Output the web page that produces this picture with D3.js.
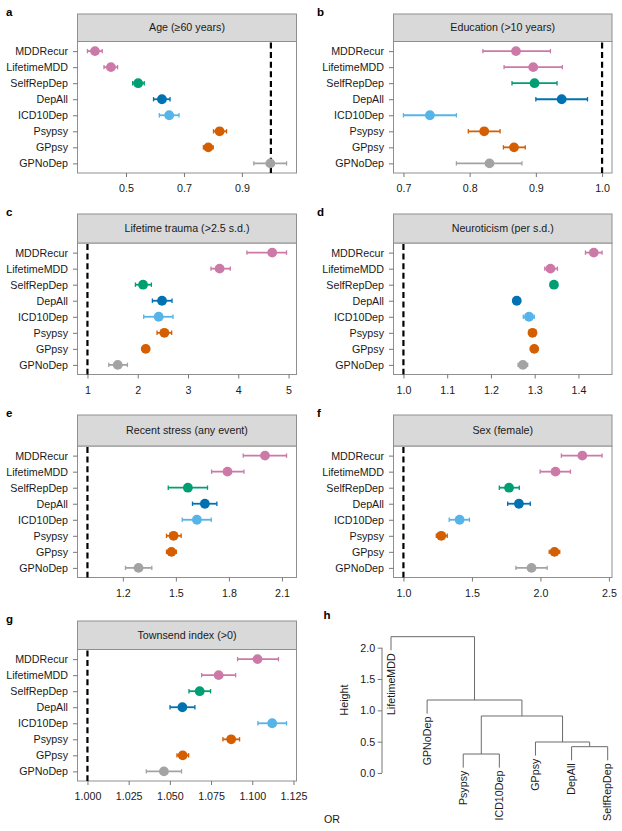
<!DOCTYPE html>
<html>
<head>
<meta charset="utf-8">
<script src="https://cdn.jsdelivr.net/npm/d3@7/dist/d3.min.js"></script>
<style>
  html, body { margin: 0; padding: 0; background: #fff; }
  svg { display: block; font-family: "Liberation Sans", Arial, Helvetica, sans-serif; }
</style>
</head>
<body>
<svg id="chart" width="622" height="831"></svg>
<script>
// ---------------- DATA ----------------
const categories = ["MDDRecur", "LifetimeMDD", "SelfRepDep", "DepAll", "ICD10Dep", "Psypsy", "GPpsy", "GPNoDep"];
const catColors = ["#CC79A7", "#CC79A7", "#009E73", "#0072B2", "#56B4E9", "#D55E00", "#D55E00", "#A3A3A3"];

// a: Age (>=60 years)
const ageOR = [0.393, 0.448, 0.542, 0.624, 0.649, 0.823, 0.784, 0.998];
const ageLo = [0.367, 0.424, 0.523, 0.595, 0.615, 0.802, 0.767, 0.941];
const ageHi = [0.418, 0.471, 0.563, 0.652, 0.683, 0.847, 0.801, 1.054];
const ageTicks = [0.5, 0.7, 0.9];

// b: Education (>10 years)
const eduOR = [0.870, 0.896, 0.898, 0.939, 0.740, 0.822, 0.867, 0.830];
const eduLo = [0.820, 0.852, 0.864, 0.900, 0.700, 0.798, 0.851, 0.780];
const eduHi = [0.922, 0.940, 0.932, 0.978, 0.780, 0.846, 0.884, 0.879];
const eduTicks = [0.7, 0.8, 0.9, 1.0];

// c: Lifetime trauma (>2.5 s.d.)
const traumaOR = [4.675, 3.629, 2.106, 2.483, 2.417, 2.530, 2.159, 1.603];
const traumaLo = [4.172, 3.457, 1.954, 2.291, 2.119, 2.384, 2.100, 1.424];
const traumaHi = [4.960, 3.841, 2.272, 2.682, 2.702, 2.675, 2.220, 1.795];
const traumaTicks = [1, 2, 3, 4, 5];

// d: Neuroticism (per s.d.)
const neuroOR = [1.435, 1.336, 1.344, 1.259, 1.287, 1.295, 1.299, 1.273];
const neuroLo = [1.416, 1.323, 1.339, 1.254, 1.274, 1.290, 1.294, 1.262];
const neuroHi = [1.454, 1.352, 1.349, 1.264, 1.299, 1.300, 1.304, 1.284];
const neuroTicks = [1.0, 1.1, 1.2, 1.3, 1.4];

// e: Recent stress (any event)
const stressOR = [2.004, 1.792, 1.568, 1.664, 1.619, 1.487, 1.475, 1.289];
const stressLo = [1.881, 1.702, 1.457, 1.594, 1.536, 1.447, 1.447, 1.215];
const stressHi = [2.126, 1.885, 1.679, 1.732, 1.700, 1.530, 1.503, 1.364];
const stressTicks = [1.2, 1.5, 1.8, 2.1];

// f: Sex (female)
const sexOR = [2.306, 2.110, 1.771, 1.843, 1.410, 1.276, 2.103, 1.935];
const sexLo = [2.153, 1.998, 1.700, 1.761, 1.334, 1.240, 2.064, 1.821];
const sexHi = [2.450, 2.219, 1.846, 1.926, 1.482, 1.320, 2.141, 2.049];
const sexTicks = [1.0, 1.5, 2.0, 2.5];

// g: Townsend index (>0)
const townOR = [1.1032, 1.0796, 1.0681, 1.0576, 1.1121, 1.0872, 1.0578, 1.0464];
const townLo = [1.0911, 1.0693, 1.0616, 1.0501, 1.1034, 1.0822, 1.0543, 1.0357];
const townHi = [1.1159, 1.0899, 1.0747, 1.0652, 1.1208, 1.0923, 1.0614, 1.0571];
const townTicks = [1.000, 1.025, 1.050, 1.075, 1.100, 1.125];

// h: dendrogram (merge heights)
const dendroTree = {h: 2.176, children: [
  {name: "LifetimeMDD"},
  {h: 1.165, children: [
    {name: "GPNoDep"},
    {h: 0.910, children: [
      {h: 0.303, children: [{name: "Psypsy"}, {name: "ICD10Dep"}]},
      {h: 0.495, children: [
        {name: "GPpsy"},
        {h: 0.420, children: [{name: "DepAll"}, {name: "SelfRepDep"}]}
      ]}
    ]}
  ]}
]};
const dendroTicks = [0, 0.5, 1.0, 1.5, 2.0];

// ---------------- DRAW ----------------
const svg = d3.select("#chart");
const FS = 10.7;
const TXT = "#1a1a1a";
const BORDER = "#8f8f8f";

const panels = [
  {letter: "a", title: "Age (\u226560 years)", or: ageOR, lo: ageLo, hi: ageHi, ticks: ageTicks, fmt: ".1f", col: 0, row: 0},
  {letter: "b", title: "Education (>10 years)", or: eduOR, lo: eduLo, hi: eduHi, ticks: eduTicks, fmt: ".1f", col: 1, row: 0},
  {letter: "c", title: "Lifetime trauma (>2.5 s.d.)", or: traumaOR, lo: traumaLo, hi: traumaHi, ticks: traumaTicks, fmt: "d", col: 0, row: 1},
  {letter: "d", title: "Neuroticism (per s.d.)", or: neuroOR, lo: neuroLo, hi: neuroHi, ticks: neuroTicks, fmt: ".1f", col: 1, row: 1},
  {letter: "e", title: "Recent stress (any event)", or: stressOR, lo: stressLo, hi: stressHi, ticks: stressTicks, fmt: ".1f", col: 0, row: 2},
  {letter: "f", title: "Sex (female)", or: sexOR, lo: sexLo, hi: sexHi, ticks: sexTicks, fmt: ".1f", col: 1, row: 2},
  {letter: "g", title: "Townsend index (>0)", or: townOR, lo: townLo, hi: townHi, ticks: townTicks, fmt: ".3f", col: 0, row: 3}
];

const colX = [[77.5, 296.5], [393.5, 612]];
const letterX = [6, 317];
const rowTop = [14, 214, 415, 621];
const headerH = [27.5, 29, 31, 28.5];
const plotH = 131.5;

panels.forEach(p => {
  const [x0, x1] = colX[p.col];
  const top = rowTop[p.row];
  const pTop = top + headerH[p.row];
  const pBot = pTop + plotH;
  const g = svg.append("g");

  const mn = d3.min([...p.lo, 1]), mx = d3.max([...p.hi, 1]);
  const pad = (mx - mn) * 0.05;
  const x = d3.scaleLinear().domain([mn - pad, mx + pad]).range([x0, x1]);
  const y = d3.scalePoint().domain(categories).range([pTop, pBot]).padding(0.6);

  // letter
  g.append("text").attr("x", letterX[p.col]).attr("y", top + 2)
    .attr("font-size", 11.5).attr("font-weight", "bold").attr("fill", "#000").text(p.letter);

  // panel box
  g.append("rect").attr("x", x0).attr("y", pTop).attr("width", x1 - x0).attr("height", plotH)
    .attr("fill", "#fff").attr("stroke", BORDER).attr("stroke-width", 1);
  // header strip
  g.append("rect").attr("x", x0).attr("y", top).attr("width", x1 - x0).attr("height", pTop - top)
    .attr("fill", "#d9d9d9").attr("stroke", BORDER).attr("stroke-width", 1);
  g.append("text").attr("x", (x0 + x1) / 2).attr("y", (top + pTop) / 2).attr("dy", "0.35em")
    .attr("text-anchor", "middle").attr("font-size", FS).attr("fill", TXT).text(p.title);

  // reference line
  g.append("line").attr("x1", x(1)).attr("x2", x(1)).attr("y1", pTop + 1).attr("y2", pBot)
    .attr("stroke", "#000").attr("stroke-width", 2.2).attr("stroke-dasharray", "6,3.6");

  // axes
  const ax = g.append("g").attr("transform", `translate(0,${pBot})`)
    .call(d3.axisBottom(x).tickValues(p.ticks).tickFormat(d3.format(p.fmt)).tickSize(4).tickPadding(7.5));
  const ay = g.append("g").attr("transform", `translate(${x0},0)`)
    .call(d3.axisLeft(y).tickSize(4.5).tickPadding(5));
  [ax, ay].forEach(a => {
    a.select(".domain").remove();
    a.selectAll(".tick line").attr("stroke", "#777");
    a.selectAll(".tick text").attr("font-size", FS).attr("fill", TXT)
      .attr("font-family", "Liberation Sans, Arial, sans-serif");
  });

  // error bars and points
  const rows = categories.map((c, i) => ({c, i, or: p.or[i], lo: p.lo[i], hi: p.hi[i], color: catColors[i]}));
  const eb = g.append("g").selectAll("g").data(rows).join("g");
  eb.append("line").attr("x1", d => x(d.lo)).attr("x2", d => x(d.hi))
    .attr("y1", d => y(d.c)).attr("y2", d => y(d.c))
    .attr("stroke", d => d.color).attr("stroke-width", 1.8);
  eb.append("line").attr("x1", d => x(d.lo)).attr("x2", d => x(d.lo))
    .attr("y1", d => y(d.c) - 2.2).attr("y2", d => y(d.c) + 2.2)
    .attr("stroke", d => d.color).attr("stroke-width", 1.3);
  eb.append("line").attr("x1", d => x(d.hi)).attr("x2", d => x(d.hi))
    .attr("y1", d => y(d.c) - 2.2).attr("y2", d => y(d.c) + 2.2)
    .attr("stroke", d => d.color).attr("stroke-width", 1.3);
  eb.append("circle").attr("cx", d => x(d.or)).attr("cy", d => y(d.c)).attr("r", 4.9)
    .attr("fill", d => d.color);
});

// ---------------- DENDROGRAM ----------------
(function () {
  const g = svg.append("g");
  g.append("text").attr("x", 323.5).attr("y", 619).attr("font-size", 11.5)
    .attr("font-weight", "bold").attr("fill", "#000").text("h");

  const root = d3.hierarchy(dendroTree);
  const leaves = root.leaves();
  const xL = d3.scalePoint().domain(leaves.map(d => d.data.name)).range([391, 607.7]);
  const yH = d3.scaleLinear().domain([0, 2]).range([773, 647.7]);
  const hang = 0.1 * root.data.h;
  const LC = "#6b6b6b";

  root.eachAfter(n => {
    if (!n.children) { n.px = xL(n.data.name); }
    else { n.px = d3.mean(n.children, c => c.px); }
  });
  root.each(n => {
    if (!n.children) n.ph = n.parent.data.h - hang; else n.ph = n.data.h;
  });

  root.descendants().filter(n => n.children).forEach(n => {
    const [c1, c2] = n.children;
    g.append("line").attr("x1", c1.px).attr("x2", c2.px)
      .attr("y1", yH(n.ph)).attr("y2", yH(n.ph)).attr("stroke", LC).attr("stroke-width", 1);
    n.children.forEach(c => {
      g.append("line").attr("x1", c.px).attr("x2", c.px)
        .attr("y1", yH(n.ph)).attr("y2", yH(c.ph)).attr("stroke", LC).attr("stroke-width", 1);
    });
  });

  leaves.forEach(l => {
    g.append("text")
      .attr("transform", `translate(${l.px},${yH(l.ph) + 3}) rotate(-90)`)
      .attr("text-anchor", "end").attr("dy", "0.35em")
      .attr("font-size", FS).attr("fill", TXT).text(l.data.name);
  });

  const ay = g.append("g").attr("transform", "translate(382,0)")
    .call(d3.axisLeft(yH).tickValues(dendroTicks).tickFormat(d3.format(".1f")).tickSize(4.3).tickPadding(2.5));
  ay.select(".domain").attr("stroke", "#777").attr("d", `M0,${yH(0)}V${yH(2)}`);
  ay.selectAll(".tick line").attr("stroke", "#777");
  ay.selectAll(".tick text").attr("font-size", FS).attr("fill", TXT)
    .attr("font-family", "Liberation Sans, Arial, sans-serif");

  g.append("text").attr("transform", "translate(344,700) rotate(-90)")
    .attr("text-anchor", "middle").attr("dy", "0.35em")
    .attr("font-size", FS).attr("fill", TXT).text("Height");

  svg.append("text").attr("x", 324).attr("y", 823).attr("font-size", FS).attr("fill", TXT).text("OR");
})();
</script>
</body>
</html>
